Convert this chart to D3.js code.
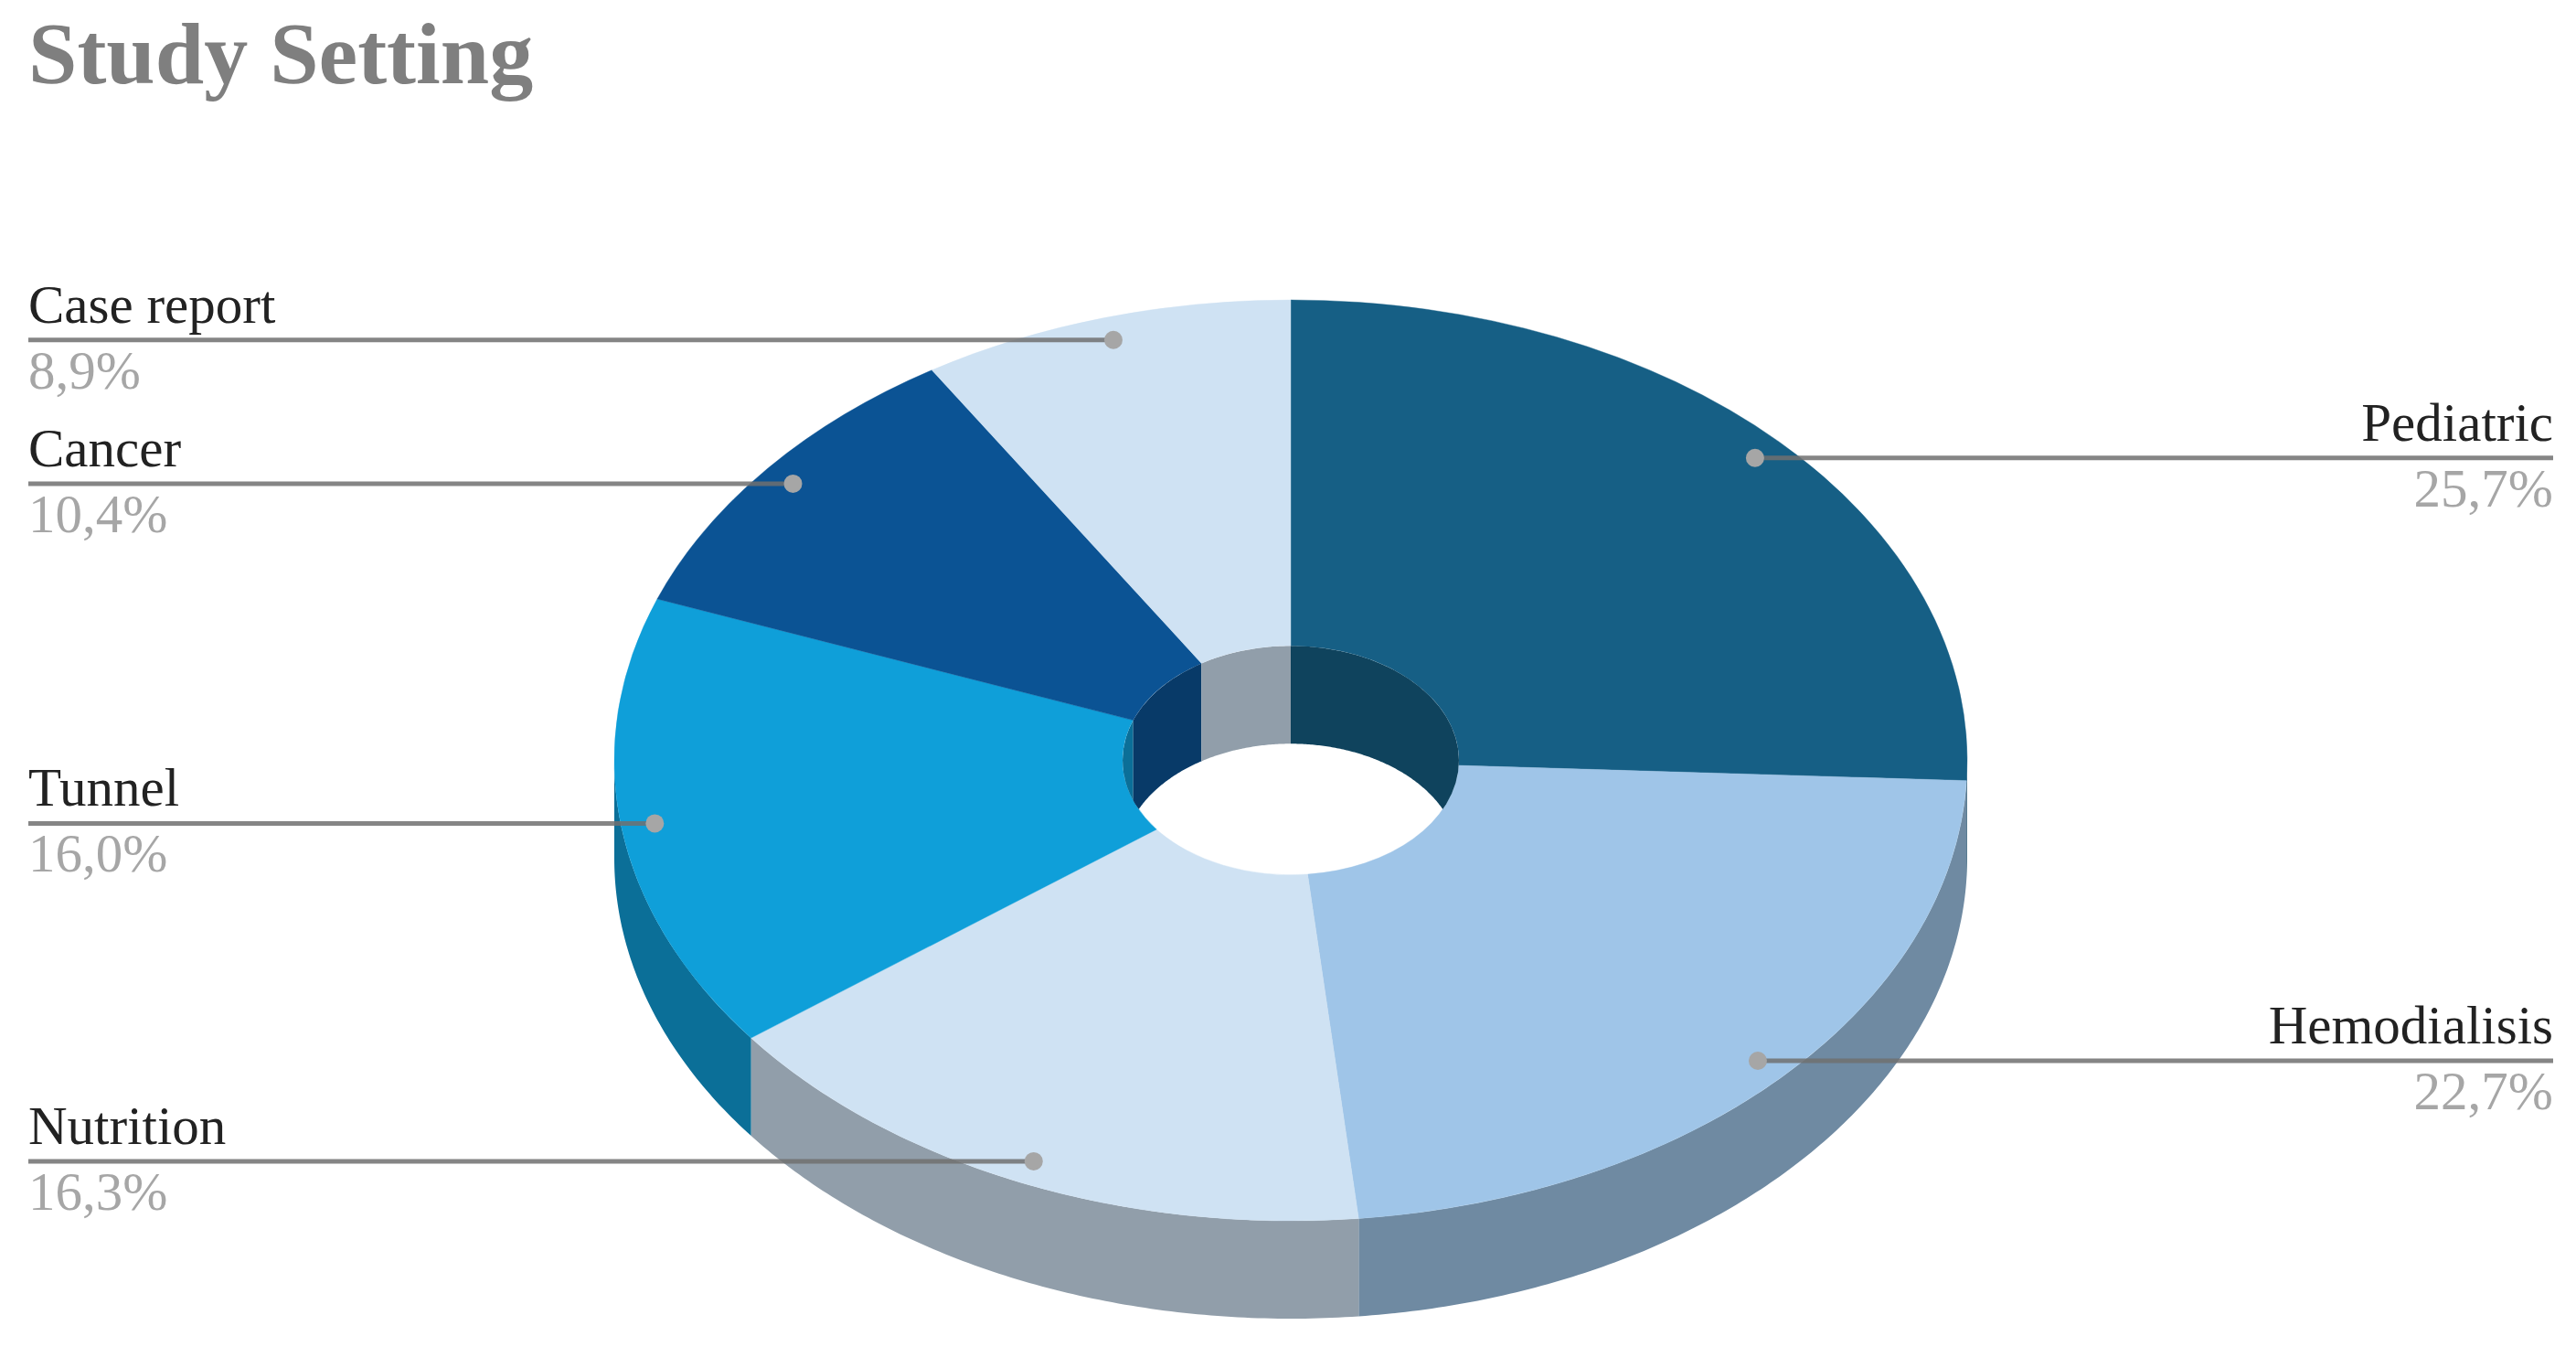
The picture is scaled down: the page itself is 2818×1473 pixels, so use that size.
<!DOCTYPE html>
<html>
<head>
<meta charset="utf-8">
<script src="https://cdn.jsdelivr.net/npm/d3@7"></script>
<style>html,body{margin:0;padding:0;background:#fff}svg{display:block}text{font-family:"Liberation Serif",serif}</style>
</head>
<body>
<script>
const categories = ["Pediatric","Hemodialisis","Nutrition","Tunnel","Cancer","Case report"];
const values = [25.7,22.7,16.3,16.0,10.4,8.9];
const colors = ["#165F85","#9FC5E8","#CFE2F3","#0F9FD9","#0B5394","#CFE2F3"];
const chartTitle = "Study Setting";

const W = 2818, H = 1473;
const cx = 1412, cy = 831.5, R = 740, Ry = 503.5, depth = 107, rIn = 184;
const squash = Ry / R;
const tau = Math.PI * 2;

const fmt = d3.formatLocale({decimal:",",thousands:".",grouping:[3],currency:["","%"]}).format(".1f");

const svg = d3.select("body").append("svg").attr("width",W).attr("height",H).attr("viewBox",`0 0 ${W} ${H}`);
svg.append("rect").attr("width",W).attr("height",H).attr("fill","#fff");

const arcs = d3.pie().value((d,i)=>values[i]).sort(null)(categories);
const arcGen = d3.arc().innerRadius(rIn).outerRadius(R);

// project a pie angle (clockwise from top) at radius r onto the tilted plane
const px = (a,r) => cx + r*Math.sin(a);
const py = (a,r,dz=0) => cy - r*squash*Math.cos(a) + dz;

// band between the upper rim and the same rim pushed down by the depth
function band(a0,a1,r){
  const n = Math.max(2,Math.ceil((a1-a0)/0.01));
  const as = d3.range(n+1).map(i=>a0+(a1-a0)*i/n);
  const pts = as.map(a=>[px(a,r),py(a,r)]).concat(as.slice().reverse().map(a=>[px(a,r),py(a,r,depth)]));
  return d3.line()(pts)+"Z";
}

// outer wall: front half of the rim
const outer = svg.append("g");
arcs.forEach((d,i)=>{
  const a0 = Math.max(d.startAngle,tau/4), a1 = Math.min(d.endAngle,3*tau/4);
  if(a1>a0) outer.append("path").attr("d",band(a0,a1,R)).attr("fill",d3.color(colors[i]).darker(1).formatHex());
});

// top surface
svg.append("g").attr("transform",`translate(${cx},${cy}) scale(1,${squash})`)
  .selectAll("path").data(arcs).join("path")
  .attr("d",arcGen).attr("fill",(d,i)=>colors[i])
  .attr("stroke",(d,i)=>colors[i]).attr("stroke-width",0.5);

// inner wall: back half of the hole, clipped by the hole
const defs = svg.append("defs");
defs.append("clipPath").attr("id","hole").append("ellipse")
  .attr("cx",cx).attr("cy",cy).attr("rx",rIn).attr("ry",rIn*squash);
const inner = svg.append("g").attr("clip-path","url(#hole)");
svg.select("defs").lower();
arcs.forEach((d,i)=>{
  [[-tau/4,tau/4],[3*tau/4,5*tau/4]].forEach(([lo,hi])=>{
    const a0 = Math.max(d.startAngle,lo), a1 = Math.min(d.endAngle,hi);
    if(a1>a0) inner.append("path").attr("d",band(a0,a1,rIn)).attr("fill",d3.color(colors[i]).darker(1).formatHex());
  });
});

// title
svg.append("text").text(chartTitle).attr("x",31).attr("y",91)
  .attr("font-size",96).attr("font-weight","bold").attr("fill","#7F7F7F");

// leader lines and labels
const leftX = 31, rightX = 2793, k = 0.95;
arcs.forEach((d,i)=>{
  const mid = (d.startAngle+d.endAngle)/2;
  const x = px(mid,R*k), y = py(mid,R*k);
  const right = mid < tau/2;
  const endX = right ? rightX : leftX;
  svg.append("line").attr("x1",x).attr("x2",endX).attr("y1",y).attr("y2",y)
    .attr("stroke","#707070").attr("stroke-opacity",0.85).attr("stroke-width",5);
  svg.append("circle").attr("cx",x).attr("cy",y).attr("r",10).attr("fill","#A6A6A6");
  svg.append("text").text(categories[i]).attr("x",endX).attr("y",y-19)
    .attr("text-anchor",right?"end":"start").attr("font-size",59).attr("fill","#222");
  svg.append("text").text(fmt(values[i])+"%").attr("x",endX).attr("y",y+53)
    .attr("text-anchor",right?"end":"start").attr("font-size",59).attr("fill","#A6A6A6");
});
</script>
</body>
</html>
